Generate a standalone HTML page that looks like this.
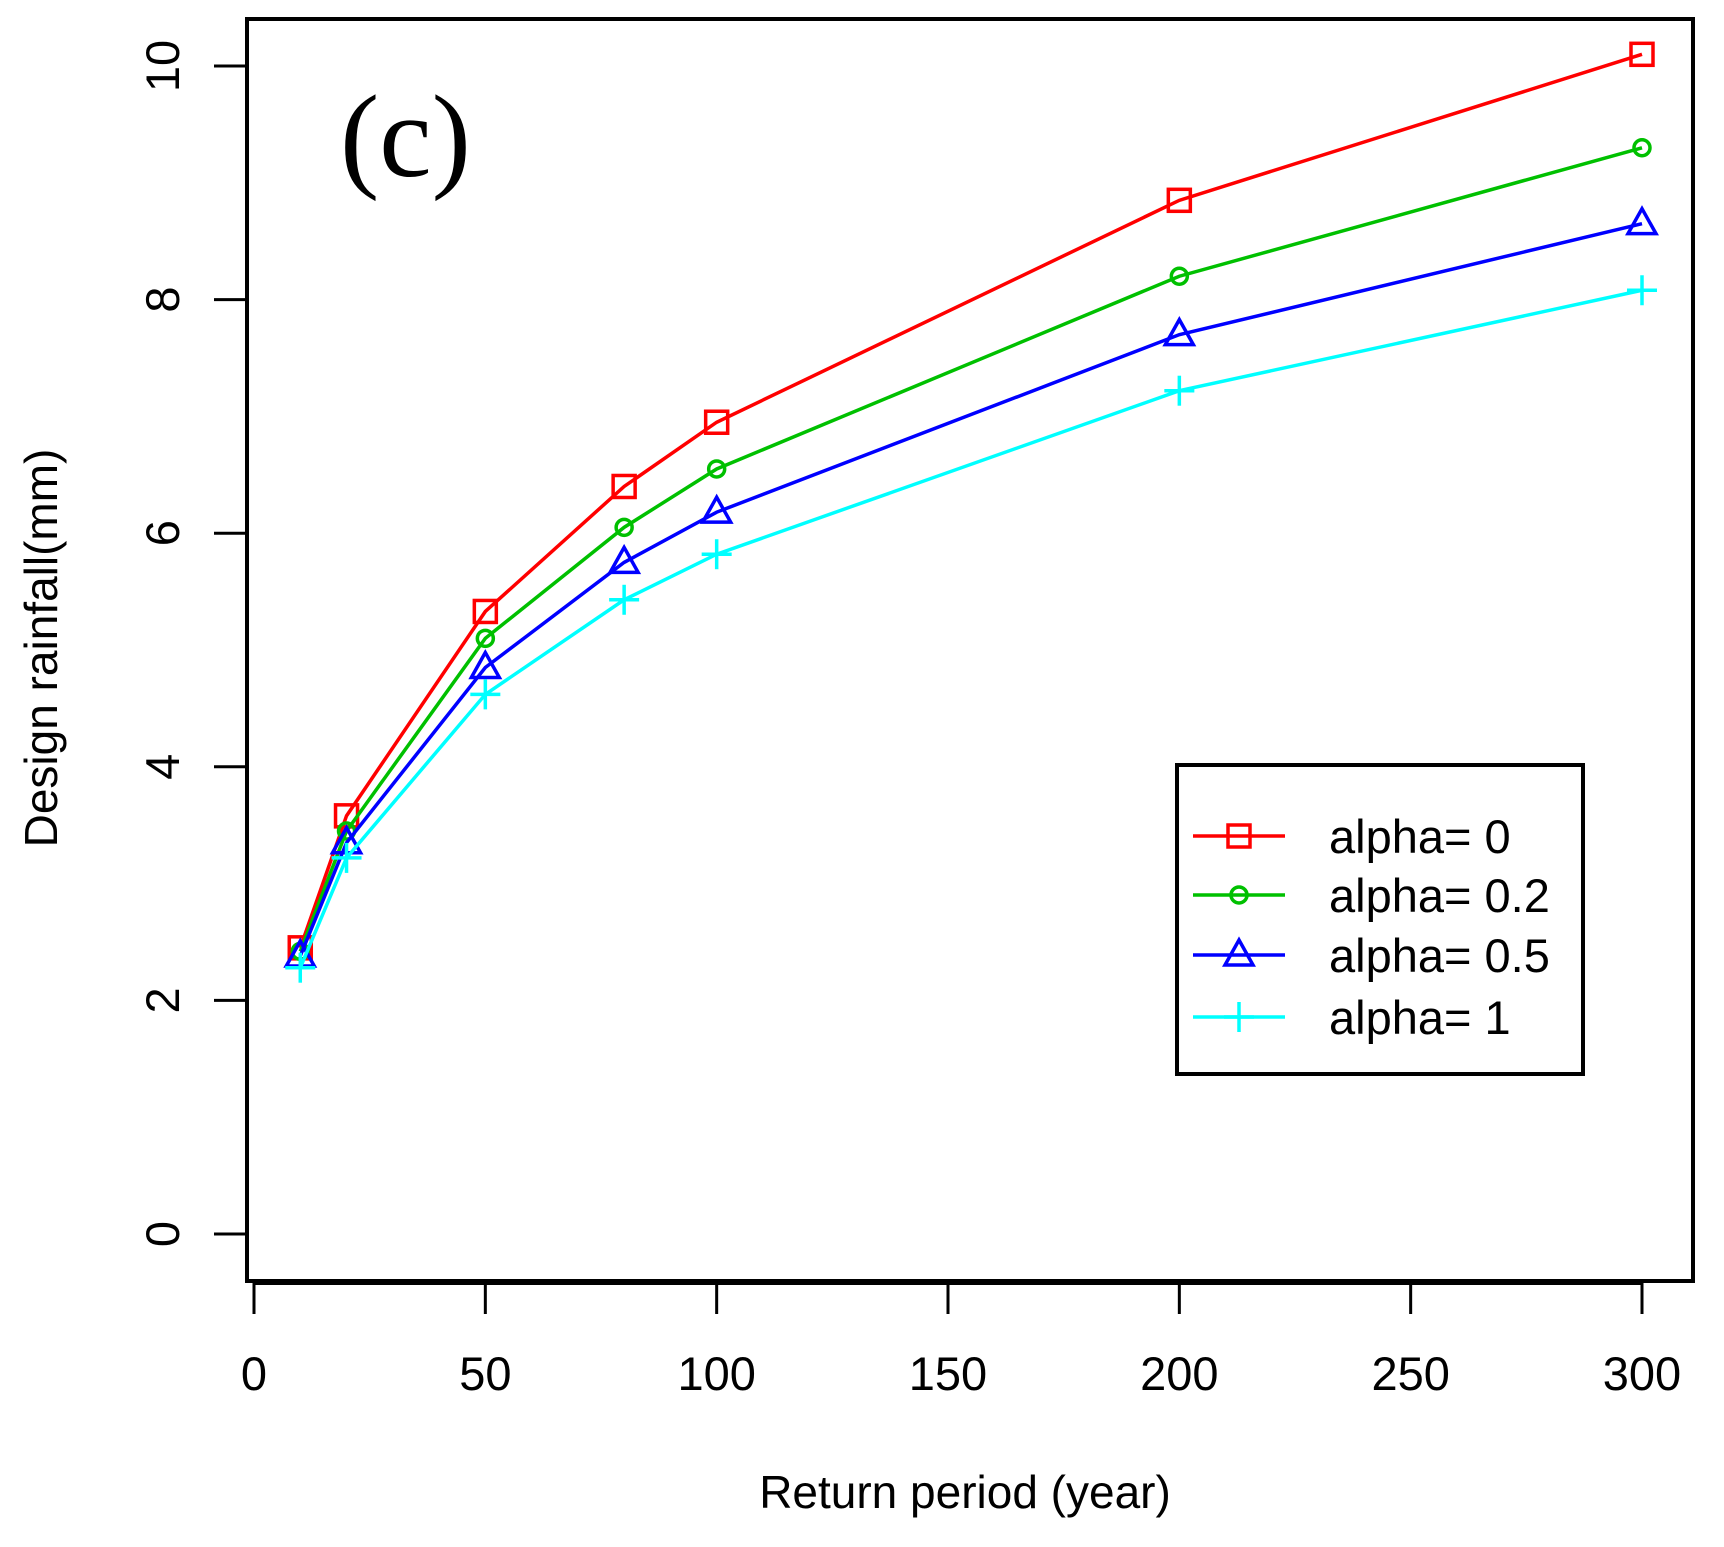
<!DOCTYPE html>
<html><head><meta charset="utf-8"><style>body{margin:0;background:#fff}svg{display:block}</style></head>
<body>
<svg id="chart" width="1724" height="1547" viewBox="0 0 1724 1547" xmlns="http://www.w3.org/2000/svg" font-family="Liberation Sans, sans-serif">
<rect x="247" y="19" width="1446" height="1262" fill="none" stroke="#000" stroke-width="4"/>
<text x="340" y="176" font-family="Liberation Serif, serif" font-size="118">(c)</text>
<g id="axes"></g>
<g id="series"></g>
<text x="965" y="1508" font-size="46" text-anchor="middle">Return period (year)</text>
<text transform="translate(57,648) rotate(-90)" font-size="46" text-anchor="middle">Design rainfall(mm)</text>
<g>
<rect x="1177" y="765" width="406" height="309" fill="#fff" stroke="#000" stroke-width="4"/>
<g id="legend-items"></g>
</g>
</svg>
<script>
const returnPeriods = [10, 20, 50, 80, 100, 200, 300];
const alpha0 = [2.45, 3.58, 5.33, 6.4, 6.95, 8.85, 10.1];
const alpha02 = [2.42, 3.45, 5.1, 6.05, 6.55, 8.2, 9.3];
const alpha05 = [2.38, 3.35, 4.85, 5.75, 6.18, 7.7, 8.65];
const alpha1 = [2.28, 3.22, 4.62, 5.43, 5.82, 7.22, 8.08];
const xTicks = [0, 50, 100, 150, 200, 250, 300];
const yTicks = [0, 2, 4, 6, 8, 10];
const seriesNames = ["alpha= 0", "alpha= 0.2", "alpha= 0.5", "alpha= 1"];

const NS = "http://www.w3.org/2000/svg";
const X = v => 254 + v * (1642 - 254) / 300;
const Y = v => 1234 - v * (1234 - 66) / 10;
function mk(tag, attrs, parent) { const e = document.createElementNS(NS, tag); for (const k in attrs) e.setAttribute(k, attrs[k]); parent.appendChild(e); return e; }
const axes = document.getElementById('axes');
mk('line', {x1: X(0), x2: X(300), y1: 1283, y2: 1283, stroke: '#000', 'stroke-width': 4}, axes);
xTicks.forEach(t => {
  const l = mk('line', {x1: X(t), x2: X(t), y1: 1281, y2: 1314, stroke: '#000', 'stroke-width': 3}, axes);
  
  
  const tx = mk('text', {x: X(t), y: 1390, 'font-size': 47, 'text-anchor': 'middle'}, axes);
  tx.textContent = t;
  
  
});
yTicks.forEach(t => {
  const l = mk('line', {x1: 214, x2: 247, y1: Y(t), y2: Y(t), stroke: '#000', 'stroke-width': 3}, axes);
  
  
  const tx = mk('text', {transform: `translate(179,${Y(t)}) rotate(-90)`, 'font-size': 47, 'text-anchor': 'middle'}, axes);
  tx.textContent = t;
  
  
});
const colors = ['#ff0000', '#00c000', '#0000ff', '#00ffff'];
const allSeries = [alpha0, alpha02, alpha05, alpha1];
function marker(kind, cx, cy, col, g, s) {
  if (kind === 0) mk('rect', {x: cx - 11*s, y: cy - 11*s, width: 22*s, height: 22*s, fill: 'none', stroke: col, 'stroke-width': 3.5}, g);
  else if (kind === 1) mk('circle', {cx, cy, r: 8*s, fill: 'none', stroke: col, 'stroke-width': 3.5}, g);
  else if (kind === 2) mk('polygon', {points: `${cx},${cy-15*s} ${cx-14*s},${cy+10*s} ${cx+14*s},${cy+10*s}`, fill: 'none', stroke: col, 'stroke-width': 3.5}, g);
  else { mk('line', {x1: cx-15*s, x2: cx+15*s, y1: cy, y2: cy, stroke: col, 'stroke-width': 3.5}, g); mk('line', {x1: cx, x2: cx, y1: cy-15*s, y2: cy+15*s, stroke: col, 'stroke-width': 3.5}, g); }
}
const sg = document.getElementById('series');
allSeries.forEach((vals, i) => {
  const g = mk('g', {}, sg);
  
  
  mk('polyline', {points: vals.map((v, j) => X(returnPeriods[j]) + ',' + Y(v)).join(' '), fill: 'none', stroke: colors[i], 'stroke-width': 3.5}, g);
  vals.forEach((v, j) => marker(i, X(returnPeriods[j]), Y(v), colors[i], g, 1));
});
const lg = document.getElementById('legend-items');
const legY = [836, 895, 955, 1017];
seriesNames.forEach((n, i) => {
  const g = mk('g', {}, lg);
  
  
  mk('line', {x1: 1193, x2: 1285, y1: legY[i], y2: legY[i], stroke: colors[i], 'stroke-width': 3.5}, g);
  marker(i, 1239, legY[i], colors[i], g, 1);
  const t = mk('text', {x: 1329, y: legY[i] + 17, 'font-size': 47}, g);
  t.textContent = n;
});
</script>
</body></html>
